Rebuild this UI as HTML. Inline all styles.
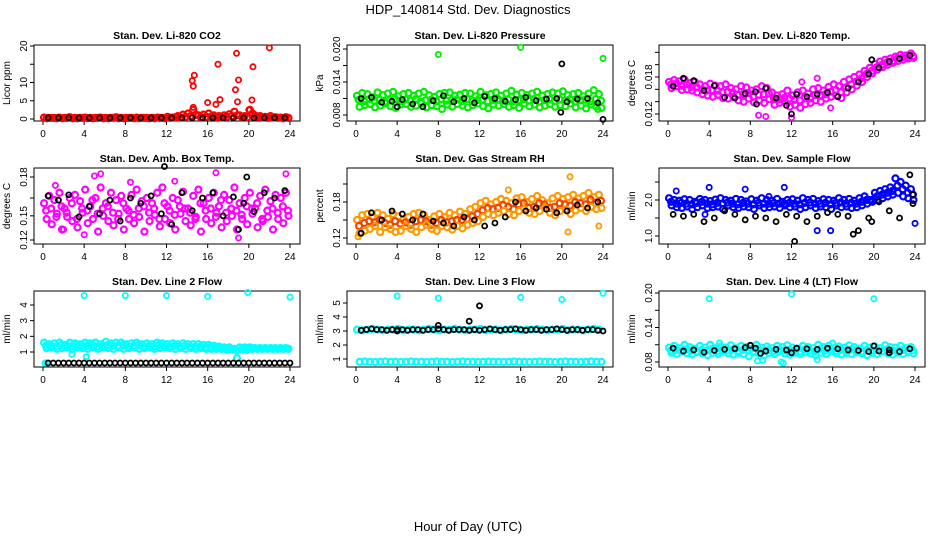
<!DOCTYPE html>
<html><head><meta charset="utf-8"><style>
body{margin:0;background:#fff;width:936px;height:540px;overflow:hidden}
svg{font-family:"Liberation Sans",Arial,sans-serif}
</style></head><body>
<svg id="c" width="936" height="540">
<text x="468" y="14" text-anchor="middle" font-size="13">HDP_140814  Std. Dev. Diagnostics</text>
<text x="468" y="531" text-anchor="middle" font-size="13">Hour of Day (UTC)</text>
</svg>
<script>
// ---- data ----
const xTicks=[0,4,8,12,16,20,24];
const co2A=[0.4,0.3,0.3,0.4,0.3,0.5,0.3,0.3,0.4,0.3,0.3,0.4,0.3,0.3,0.5,0.3,0.3,0.3,0.4,0.3,0.3,0.3,0.4,0.3,0.6,0.4,0.8,1.2,1.5,2.5,1.0,1.2,1.5,1.0,0.8,1.0,1.3,2.0,1.0,0.8,2.5,1.0,0.8,0.6,0.8,0.5,0.4,0.5];
const co2B=[0.2,0.3,0.2,0.2,0.3,0.2,0.2,0.3,0.2,0.2,0.3,0.2,0.2,0.3,0.2,0.2,0.3,0.2,0.2,0.3,0.2,0.2,0.3,0.2,0.3,0.5,0.4,0.6,0.8,1.2,0.5,0.6,0.7,0.5,0.4,0.6,0.8,1.0,0.5,0.4,1.5,0.6,0.4,0.3,0.4,0.3,0.2,0.3];
const co2C=[];
const co2OutX=[14.5,14.6,14.7,16,16.8,17,17.2,18.7,18.8,18.9,19,20.3,20.4,22,14.6,20];
const co2OutY=[10.5,9,12,4.5,4,15,5.3,8,18,4.7,10.7,5.2,14.3,19.5,3.2,2.5];
const co2K=[0.3,0.3,0.3,0.3,0.3,0.3,0.3,0.3,0.3,0.3,0.3,0.3,0.3,0.3,0.3,0.3,0.3,0.3,0.3,0.3,0.3,0.3,0.3,0.3];
const co2Ticks=[0,5,10,15,20];const co2Labels=["0","5","10","","20"];

const prA=[11.5,12,11.8,11.2,12.1,11.6,11.9,12.2,11.4,11.8,12,11.5,11.9,12.2,11.6,11.3,11.8,12,12.1,11.5,11.7,12,11.9,11.4,12.2,11.6,11.8,12.1,11.5,11.9,12.4,11.7,12,11.6,11.9,12.2,11.5,11.8,12.1,11.9,12.3,11.6,11.8,12,11.4,11.9,12.5,11.8];
const prB=[9.5,9.8,10,9.4,9.7,10.1,9.6,9.3,9.9,10,9.5,9.7,10.2,9.4,9.8,9.6,9.1,9.9,9.5,10,9.7,9.4,9.8,10.1,9.6,9.2,9.9,9.7,10,9.5,9.8,9.3,10.1,9.6,9.9,9.4,9.7,10,9.5,9.8,9.6,10.1,9.4,9.7,9.2,9.9,9.5,9.3];
const prC=[10.7,10.5,10.9,10.6,10.8,10.4,10.7,10.9,10.5,10.8,10.6,10.9,10.4,10.7,10.8,10.5,10.9,10.6,10.7,10.8,10.5,10.9,10.6,10.7,10.8,10.5,10.7,10.9,10.6,10.8,10.5,10.7,10.9,10.6,10.8,10.4,10.7,10.9,10.5,10.8,10.6,10.9,10.4,10.7,10.8,10.5,10.9,10.6];
const prOutX=[8,16,24,0.2,23.5];const prOutY=[19,20.3,18.3,10.8,9];
const prK=[11,11.2,10.3,10.5,10.8,10,9.5,10.6,11.5,10.4,11,10.2,11.4,11,10.5,10.8,11.2,10.6,10.9,11,10.4,10.9,11,10.2];
const prKOutX=[20,24,4,19.9];const prKOutY=[17.3,7.2,9.5,8.5];
const prTicks=[8,11,14,17,20];const prLabels=["0.008","","0.014","","0.020"];

const tpA=[17.2,17.5,17.3,17.6,17.0,17.2,16.8,16.5,16.9,16.6,16.5,16.8,16.2,16.0,16.5,16.3,15.8,16.0,16.5,16.2,15.5,15.0,15.2,15.8,15.0,15.5,15.8,15.3,16.0,16.2,15.8,16.4,16.8,16.5,17.2,17.6,18.0,18.4,19.0,19.5,20.1,20.5,20.8,21.0,21.3,21.6,21.5,21.8];
const tpB=[16.2,16.5,15.9,16.0,15.8,15.5,15.2,15.0,14.8,15.1,14.6,14.5,14.8,14.2,14.0,14.5,13.9,14.2,13.8,14.4,13.5,13.8,14.0,13.2,13.5,13.0,13.6,13.8,14.2,14.0,14.5,14.8,15.0,14.6,15.5,16.0,16.6,17.2,18.0,18.6,19.2,19.6,20.0,20.3,20.6,20.8,21.0,21.1];
const tpC=[16.8,17.0,16.6,16.8,16.4,16.3,16.0,15.8,15.9,15.8,15.5,15.6,15.5,15.1,15.2,15.4,14.8,15.1,15.2,15.3,14.5,14.4,14.6,14.5,14.3,14.2,14.7,14.5,15.1,15.1,15.2,15.6,15.9,15.5,16.3,16.8,17.3,17.8,18.5,19.0,19.6,20.0,20.4,20.6,21.0,21.2,21.2,21.4];
const tpOutX=[8.8,12,13,9.5,15.8,14.5];const tpOutY=[11.8,11.4,17.2,11.6,13,17.8];
const tpK=[16.5,17.8,17.4,15.8,16.6,14.7,14.6,15.3,15.6,16.2,14.6,13.4,15.2,14.8,15.2,15.5,14.8,16.2,17.2,18.5,19.5,20.5,21,21.5];
const tpKOutX=[12,8.6,19.8];const tpKOutY=[12.0,13.6,20.8];
const tpTicks=[12,14,16,18,20,22];const tpLabels=["0.012","","","0.018","",""];

const abA=[155,162,158,165,150,160,163,157,168,152,160,170,155,165,158,162,150,163,168,157,160,155,165,170,152,160,158,166,150,162,168,155,160,165,152,163,158,170,155,160,165,150,162,168,157,163,160,165];
const abB=[140,135,145,130,142,138,132,146,136,140,128,143,138,134,145,130,140,136,142,128,138,144,133,140,136,130,145,138,134,142,128,140,136,146,132,138,143,130,140,135,145,132,138,142,130,140,136,143];
const abC=[148,150,142,152,146,155,140,150,148,158,145,150,152,146,140,155,148,144,150,152,146,150,140,155,148,144,152,150,146,140,155,148,150,142,158,146,150,148,144,152,150,155,140,148,150,146,152,148];
const abOutX=[1.2,5,5.6,16.8,23.6,4,19,2,8.5,12.8];const abOutY=[172,181,183,184,183,125,122,130,175,176];
const abK=[162,158,163,142,152,145,158,138,160,155,162,145,135,165,148,160,165,143,161,155,147,165,160,167];
const abKOutX=[11.8,19.8,19];const abKOutY=[190,180,130];
const abTicks=[120,143,160,180];const abLabels=["0.12","0.15","","0.18"];

const rhA=[150,158,160,155,162,158,152,160,156,150,155,160,162,158,150,156,160,155,162,158,164,160,168,172,178,182,176,180,185,182,178,186,188,180,185,190,183,178,186,190,185,188,192,186,190,195,188,192];
const rhB=[128,132,135,140,130,138,135,130,132,140,135,130,138,142,135,132,140,138,134,140,136,142,145,148,155,160,158,162,165,160,158,165,168,162,160,165,170,162,158,165,168,160,166,170,165,172,168,170];
const rhC=[140,145,148,146,150,145,142,148,144,146,142,148,150,148,142,145,150,146,148,150,150,152,156,160,166,170,168,170,175,172,168,176,178,170,172,178,176,170,172,178,176,174,180,178,176,184,178,182];
const rhOutX=[20.8,20.6,14.8,0.2,23.6];const rhOutY=[222,130,200,122,140];
const rhK=[128,162,150,165,160,150,160,148,145,140,155,150,140,145,155,180,165,170,168,162,165,175,170,180];
const rhTicks=[120,150,180,210];const rhLabels=["0.12","","0.18",""];

const sfA=[2.05,2.0,1.98,2.02,2.0,1.95,2.03,2.0,1.97,2.01,2.05,2.0,1.98,2.03,2.0,1.96,2.02,1.98,2.05,2.0,1.98,2.03,1.95,2.0,2.02,1.98,2.05,2.0,2.03,1.97,2.02,2.0,1.98,2.05,2.0,2.03,1.98,2.05,2.1,2.0,2.2,2.25,2.3,2.35,2.6,2.5,2.4,2.3];
const sfB=[1.85,1.8,1.78,1.82,1.75,1.8,1.85,1.78,1.8,1.82,1.75,1.85,1.8,1.78,1.82,1.8,1.75,1.85,1.78,1.8,1.82,1.78,1.85,1.8,1.82,1.75,1.8,1.85,1.78,1.82,1.8,1.75,1.85,1.8,1.82,1.78,1.8,1.85,1.9,1.95,2.0,2.05,2.1,2.15,2.2,2.1,2.05,2.0];
const sfC=[1.95,1.9,1.92,1.9,1.88,1.92,1.95,1.9,1.88,1.92,1.9,1.93,1.9,1.88,1.92,1.9,1.88,1.92,1.9,1.9,1.92,1.9,1.9,1.92,1.9,1.88,1.92,1.93,1.9,1.9,1.92,1.88,1.92,1.93,1.9,1.92,1.9,1.95,2.0,2.0,2.1,2.15,2.2,2.25,2.4,2.3,2.2,2.15];
const sfOutX=[4,7.5,9.8,11.3,0.8,3.6,24,14.5,15.8];const sfOutY=[2.35,2.3,2.1,2.35,2.25,1.6,1.35,1.15,1.15];
const sfK=[1.6,1.55,1.6,1.4,1.5,1.7,1.6,1.45,1.55,1.5,1.4,1.6,1.55,1.4,1.55,1.65,1.6,1.55,1.15,1.5,1.95,1.7,1.5,2.7];
const sfKOutX=[12.3,18,19.8,23.8,23.8];const sfKOutY=[0.85,1.05,1.4,2.15,1.9];
const sfTicks=[1.0,1.5,2.0,2.5];const sfLabels=["1.0","","2.0",""];

const l2A=[1.6,1.5,1.55,1.6,1.45,1.6,1.55,1.5,1.6,1.55,1.6,1.5,1.65,1.55,1.6,1.6,1.5,1.55,1.6,1.5,1.55,1.5,1.6,1.55,1.5,1.55,1.5,1.55,1.5,1.5,1.5,1.45,1.45,1.4,1.35,1.3,1.3,1.2,1.3,1.3,1.3,1.25,1.25,1.25,1.25,1.25,1.25,1.25];
const l2B=[1.25,1.3,1.2,1.25,1.3,1.2,1.3,1.25,1.2,1.3,1.2,1.3,1.25,1.2,1.3,1.2,1.25,1.3,1.2,1.25,1.3,1.2,1.25,1.3,1.25,1.2,1.25,1.2,1.25,1.2,1.25,1.2,1.2,1.2,1.2,1.15,1.15,0.6,1.15,1.15,1.2,1.2,1.2,1.2,1.2,1.2,1.2,1.2];
const l2C=[1.4,1.4,1.35,1.45,1.4,1.35,1.45,1.4,1.4,1.45,1.35,1.4,1.45,1.4,1.4,1.45,1.35,1.4,1.45,1.35,1.4,1.35,1.45,1.4,1.35,1.4,1.35,1.4,1.35,1.35,1.35,1.3,1.3,1.3,1.25,1.25,1.2,1.1,1.2,1.22,1.22,1.22,1.22,1.22,1.22,1.22,1.22,1.22];
const l2OutX=[4,8,12,16,19.9,24,2.8,4.2,0.2,0.4];const l2OutY=[4.6,4.6,4.6,4.55,4.8,4.5,0.85,0.7,0.3,0.3];
const l2K=[0.3,0.3,0.3,0.3,0.3,0.3,0.3,0.3,0.3,0.3,0.3,0.3,0.3,0.3,0.3,0.3,0.3,0.3,0.3,0.3,0.3,0.3,0.3,0.3,0.3,0.3,0.3,0.3,0.3,0.3,0.3,0.3,0.3,0.3,0.3,0.3,0.3,0.3,0.3,0.3,0.3,0.3,0.3,0.3,0.3,0.3,0.3,0.3];
const l2Ticks=[1,2,3,4];const l2Labels=["1","2","3","4"];

const l3A=[3.1,3.05,3.1,3.15,3.1,3.05,3.1,3.1,3.15,3.05,3.1,3.1,3.05,3.1,3.15,3.1,3.05,3.1,3.1,3.15,3.1,3.05,3.1,3.1,3.15,3.05,3.1,3.1,3.05,3.1,3.15,3.1,3.05,3.1,3.1,3.15,3.1,3.05,3.1,3.1,3.15,3.05,3.1,3.1,3.05,3.1,3.15,3.1];
const l3B=[0.8,0.82,0.8,0.78,0.8,0.82,0.8,0.8,0.78,0.8,0.82,0.8,0.8,0.78,0.8,0.82,0.8,0.8,0.78,0.8,0.82,0.8,0.8,0.78,0.8,0.82,0.8,0.8,0.78,0.8,0.82,0.8,0.8,0.78,0.8,0.82,0.8,0.8,0.78,0.8,0.82,0.8,0.8,0.78,0.8,0.82,0.8,0.8];
const l3C=[];
const l3OutX=[4,8,16,20,24];const l3OutY=[5.5,5.35,5.4,5.25,5.7];
const l3K=[3.05,3.1,3.15,3.1,3.1,3.05,3.1,3.1,3.1,3.05,3.1,3.1,3.05,3.1,3.1,3.15,3.1,3.05,3.1,3.1,3.1,3.05,3.1,3.05,3.1,3.15,3.1,3.05,3.1,3.1,3.15,3.1,3.05,3.1,3.1,3.05,3.1,3.1,3.15,3.1,3.05,3.1,3.1,3.05,3.1,3.1,3.05,3.0];
const l3KOutX=[12,11,8,4];const l3KOutY=[4.8,3.7,3.4,3.0];
const l3Ticks=[1,2,3,4,5];const l3Labels=["1","2","3","4","5"];

const l4A=[105,108,104,110,106,103,108,105,110,104,107,105,109,104,108,106,103,110,105,107,104,108,106,109,105,103,108,106,104,110,106,108,104,107,105,109,106,103,108,105,107,104,109,106,105,108,104,106];
const l4B=[96,94,98,95,93,97,95,92,96,94,98,95,93,96,94,90,97,95,92,96,94,98,95,93,96,94,97,95,92,96,94,98,95,93,96,94,97,95,92,96,94,98,95,93,96,94,97,95];
const l4C=[100,101,99,102,100,98,101,100,103,99,101,100,102,99,101,100,98,102,100,101,99,102,100,101,100,98,102,100,99,103,100,102,99,101,100,102,101,98,101,100,101,99,102,100,100,101,99,100];
const l4OutX=[4,12,20,8.7,9.2,11,11.2,14.5,5,16];const l4OutY=[190,198,190,82,83,80,78,84,113,113];
const l4K=[104,99,101,97,100,102,103,105,104,99,102,101,104,103,102,104,103,101,100,98,99,101,98,103];
const l4KOutX=[12,9,8,20,21.5];const l4KOutY=[96,95,109,108,96];
const l4Ticks=[80,110,140,170,200];const l4Labels=["0.08","","0.14","","0.20"];

// ---- drawing ----
const NS="http://www.w3.org/2000/svg",svg=document.getElementById('c');
function mk(t,a,p){const e=document.createElementNS(NS,t);for(const k in a)e.setAttribute(k,a[k]);(p||svg).appendChild(e);return e;}
function panel(o){
  const g=mk('g',{});
  
  
  const L=o.L,R=o.L+266,T=o.T,B=o.T+76;
  const xs=h=>L+9+h*(R-10-(L+9))/24;
  const ys=v=>o.py0+(v-o.v0)*(o.py1-o.py0)/(o.v1-o.v0);
  const box=mk('rect',{x:L,y:T,width:R-L,height:B-T,fill:'none',stroke:'#000','stroke-width':1},g);
  
  
  const tt=mk('text',{x:(L+R)/2,y:T-6,'text-anchor':'middle','font-size':10.5,'font-weight':'bold'},g);tt.textContent=o.title;
  
  
  const yl=mk('text',{transform:`translate(${L-24},${(T+B)/2}) rotate(-90)`,'text-anchor':'middle','font-size':10},g);yl.textContent=o.ylab;
  
  
  xTicks.forEach(h=>{mk('line',{x1:xs(h),x2:xs(h),y1:B,y2:B+4,stroke:'#000'},g);
    const t=mk('text',{x:xs(h),y:B+16,'text-anchor':'middle','font-size':10},g);t.textContent=h;
    
    });
  o.ticks.forEach((v,i)=>{const y=ys(v);mk('line',{x1:L-4,x2:L,y1:y,y2:y,stroke:'#000'},g);
    if(o.labels[i]){const t=mk('text',{transform:`translate(${L-7},${y}) rotate(-90)`,'text-anchor':'middle','font-size':10},g);t.textContent=o.labels[i];
    
    }});
  const dot=(h,v,c,n,r,w)=>{const e=mk('circle',{cx:xs(h),cy:ys(v),r:r,fill:'none',stroke:c,'stroke-width':w},g);
    
    };
  o.A.forEach((v,i)=>dot(i*0.5+0.1,v,o.c1,'point-series-a',3,2.2));
  o.C.forEach((v,i)=>dot(i*0.5+0.3,v,o.c2||o.c1,'point-series-c',3,2.2));
  o.B.forEach((v,i)=>dot(i*0.5+0.35,v,o.c1,'point-series-b',3,2.2));
  o.ox.forEach((h,i)=>dot(h,o.oy[i],o.c1,'point-outlier',2.6,1.8));
  const kstep=o.K.length>30?0.5:1;
  o.K.forEach((v,i)=>dot(i*kstep+0.5,v,'#000','point-black-series',2.5,1.8));
  (o.kx||[]).forEach((h,i)=>dot(h,o.ky[i],'#000','point-black-outlier',2.5,1.8));
}
panel({name:'panel-co2',title:'Stan. Dev. Li-820 CO2',ylab:'Licor ppm',L:34,T:45,v0:0,py0:119,v1:20,py1:46,ticks:co2Ticks,labels:co2Labels,A:co2A,B:co2B,C:co2C,ox:co2OutX,oy:co2OutY,K:co2K,c1:'#ff0000'});
panel({name:'panel-pressure',title:'Stan. Dev. Li-820 Pressure',ylab:'kPa',L:347,T:45,v0:8,py0:115,v1:20,py1:49,ticks:prTicks,labels:prLabels,A:prA,B:prB,C:prC,ox:prOutX,oy:prOutY,K:prK,kx:prKOutX,ky:prKOutY,c1:'#00ee00'});
panel({name:'panel-li820-temp',title:'Stan. Dev. Li-820 Temp.',ylab:'degrees C',L:659,T:45,v0:12,py0:114,v1:18,py1:77,ticks:tpTicks,labels:tpLabels,A:tpA,B:tpB,C:tpC,ox:tpOutX,oy:tpOutY,K:tpK,kx:tpKOutX,ky:tpKOutY,c1:'#ff00ff'});
panel({name:'panel-ambient-temp',title:'Stan. Dev. Amb. Box Temp.',ylab:'degrees C',L:34,T:168,v0:120,py0:240,v1:180,py1:177,ticks:abTicks,labels:abLabels,A:abA,B:abB,C:abC,ox:abOutX,oy:abOutY,K:abK,kx:abKOutX,ky:abKOutY,c1:'#ff00ff'});
panel({name:'panel-gas-rh',title:'Stan. Dev. Gas Stream RH',ylab:'percent',L:347,T:168,v0:120,py0:238,v1:180,py1:202,ticks:rhTicks,labels:rhLabels,A:rhA,B:rhB,C:rhC,ox:rhOutX,oy:rhOutY,K:rhK,c1:'#ff9900',c2:'#ee4400'});
panel({name:'panel-sample-flow',title:'Stan. Dev. Sample Flow',ylab:'ml/min',L:659,T:168,v0:1,py0:236,v1:2,py1:200,ticks:sfTicks,labels:sfLabels,A:sfA,B:sfB,C:sfC,ox:sfOutX,oy:sfOutY,K:sfK,kx:sfKOutX,ky:sfKOutY,c1:'#0000ff'});
panel({name:'panel-line2-flow',title:'Stan. Dev. Line 2 Flow',ylab:'ml/min',L:34,T:291,v0:1,py0:352,v1:4,py1:305,ticks:l2Ticks,labels:l2Labels,A:l2A,B:l2B,C:l2C,ox:l2OutX,oy:l2OutY,K:l2K,c1:'#00ffff'});
panel({name:'panel-line3-flow',title:'Stan. Dev. Line 3 Flow',ylab:'ml/min',L:347,T:291,v0:1,py0:359,v1:5,py1:303,ticks:l3Ticks,labels:l3Labels,A:l3A,B:l3B,C:l3C,ox:l3OutX,oy:l3OutY,K:l3K,kx:l3KOutX,ky:l3KOutY,c1:'#00ffff'});
panel({name:'panel-line4-flow',title:'Stan. Dev. Line 4 (LT) Flow',ylab:'ml/min',L:659,T:291,v0:80,py0:362,v1:200,py1:293,ticks:l4Ticks,labels:l4Labels,A:l4A,B:l4B,C:l4C,ox:l4OutX,oy:l4OutY,K:l4K,kx:l4KOutX,ky:l4KOutY,c1:'#00ffff'});
</script>
</body></html>
